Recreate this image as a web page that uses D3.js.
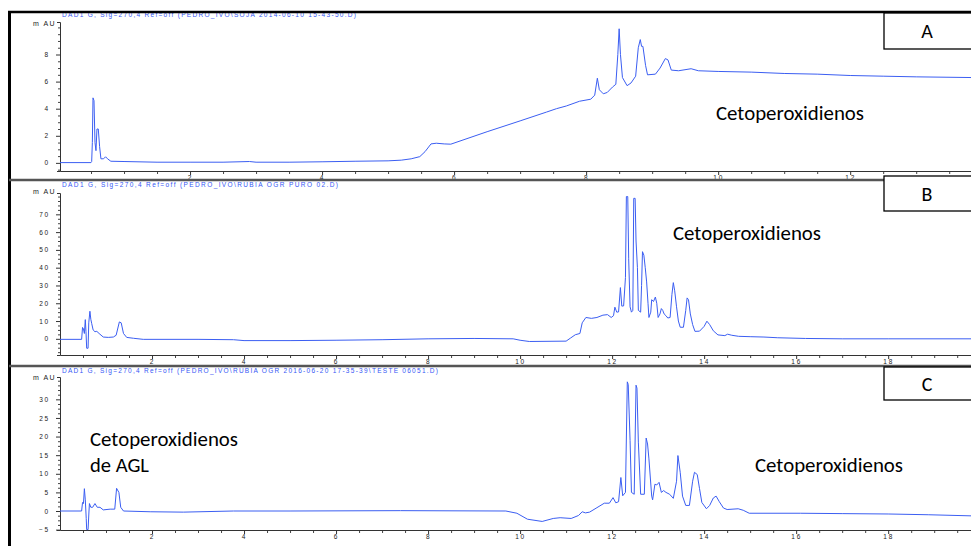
<!DOCTYPE html>
<html>
<head>
<meta charset="utf-8">
<script src="https://cdn.jsdelivr.net/npm/d3@7"></script>
<style>
  body { margin: 0; background: #fff; }
  svg { display: block; }
  .tick text { font-family: "Liberation Sans", Arial, sans-serif; font-size: 6.5px; letter-spacing: 1.8px; fill: #222; }
</style>
</head>
<body>
<svg id="chart" width="971" height="546"></svg>
<script>
// --- Data (time in min, signal in mAU) ---

const titleA = 'DAD1 G, Sig=270,4 Ref=off (PEDRO_IVO\\SOJA 2014-06-10 15-43-50.D)';
const titleB = 'DAD1 G, Sig=270,4 Ref=off (PEDRO_IVO\\RUBIA OGR PURO 02.D)';
const titleC = 'DAD1 G, Sig=270,4 Ref=off (PEDRO_IVO\\RUBIA OGR 2016-06-20 17-35-39\\TESTE 06051.D)';

const timeA = [0.03, 0.5, 0.51, 0.52, 0.53, 0.545, 0.56, 0.575, 0.59, 0.61, 0.63, 0.65, 0.69, 0.72, 0.75, 0.8,
  1.0, 1.5, 2.0, 2.5, 2.9, 3.0, 3.5, 4.0, 4.5, 5.0, 5.2, 5.35, 5.48, 5.56, 5.65, 5.73, 5.85, 5.95,
  6.5, 7.0, 7.4, 7.55, 7.7, 7.9, 8.07, 8.13, 8.17, 8.2, 8.26, 8.32, 8.4, 8.45, 8.48, 8.5, 8.52, 8.55,
  8.62, 8.68, 8.75, 8.79, 8.82, 8.84, 8.86, 8.9, 8.93, 9.05, 9.12, 9.2, 9.24, 9.29, 9.4, 9.59, 9.7,
  10, 10.5, 11, 11.5, 12, 12.5, 13, 13.83];
const valueA = [0.02, 0.02, 0.1, 1.5, 4.8, 4.6, 1.5, 0.9, 2.5, 2.5, 1.2, 0.3, 0.3, 0.45, 0.3, 0.12,
  0.1, 0.05, 0.05, 0.05, 0.1, 0.05, 0.05, 0.08, 0.12, 0.15, 0.2, 0.3, 0.46, 0.83, 1.4, 1.45, 1.4, 1.38,
  2.3, 3.1, 3.75, 4.0, 4.2, 4.55, 4.7, 5.0, 6.25, 5.4, 5.1, 5.2, 5.6, 5.8, 8.0, 9.9, 8.0, 6.3,
  5.7, 5.9, 6.4, 8.5, 9.1, 8.6, 8.6, 7.2, 6.5, 6.55, 7.0, 7.7, 7.6, 6.85, 6.8, 6.95, 6.8,
  6.75, 6.7, 6.6, 6.55, 6.45, 6.4, 6.35, 6.3];

const timeB = [0, 0.47, 0.49, 0.51, 0.53, 0.55, 0.565, 0.58, 0.61, 0.625, 0.65, 0.67, 0.69, 0.72, 0.76, 0.8,
  0.85, 0.94, 1.05, 1.16, 1.22, 1.29, 1.33, 1.38, 1.45, 1.6, 1.81, 3.0, 3.77, 4.0, 5.0, 6.0, 7.0, 8.0,
  9.0, 9.85, 10.0, 10.2, 11.0, 11.1, 11.2, 11.3, 11.35, 11.43, 11.55, 11.67, 11.8, 11.9, 11.98, 12.03,
  12.06, 12.1, 12.14, 12.18, 12.21, 12.25, 12.29, 12.31, 12.34, 12.36, 12.39, 12.42, 12.45, 12.47, 12.5,
  12.52, 12.55, 12.57, 12.62, 12.64, 12.66, 12.69, 12.72, 12.75, 12.78, 12.8, 12.84, 12.86, 12.9, 12.94,
  12.97, 13.0, 13.04, 13.07, 13.1, 13.13, 13.17, 13.21, 13.26, 13.3, 13.33, 13.36, 13.4, 13.44, 13.48,
  13.55, 13.6, 13.63, 13.66, 13.7, 13.75, 13.8, 13.9, 14.0, 14.06, 14.12, 14.2, 14.3, 14.45, 14.51, 14.6,
  14.75, 15.0, 15.3, 15.6, 16.2, 17, 18, 19.8];
const valueB = [-0.3, -0.3, 6.4, 5.5, 3, 10.8, 4, -5.3, -5.3, 9, 15.5, 11, 8.5, 5, 4, 4.2,
  3, 1, 0.8, 1, 2, 9.5, 9, 3, 0.8, 0.3, -0.3, -0.3, -0.5, -1, -1, -0.8, -0.5, 0,
  0.2, 0, -0.8, -1.5, -1.3, 0.5, 2.3, 3, 9, 12, 11.5, 12, 13.3, 13.6, 12, 13,
  17.8, 15, 15.1, 28.8, 18.4, 18.5, 34.5, 80, 80, 45, 18, 15, 16, 79, 79,
  55, 40, 16, 15, 30, 49, 47, 40, 32, 20, 12, 15, 22, 21, 23.5,
  20, 12, 14, 17, 16, 14, 13, 11.7, 12, 25, 31.6, 27, 18, 10, 6.5,
  6.5, 16, 23, 22, 14, 8, 4.2, 4.3, 7, 9.9, 8, 4.5, 2.2, 1.8, 2.6, 2,
  1.4, 1.2, 1, 0.6, 0.2, 0, 0, 0];

const timeC = [0, 0.47, 0.49, 0.51, 0.53, 0.55, 0.57, 0.58, 0.61, 0.63, 0.64, 0.67, 0.71, 0.76, 0.81, 0.87,
  0.94, 1.09, 1.19, 1.23, 1.28, 1.32, 1.38, 1.96, 2.68, 3.77, 5, 7.4, 9.69, 9.93, 10.16, 10.48, 10.72,
  10.87, 11.11, 11.27, 11.35, 11.42, 11.51, 11.67, 11.83, 11.94, 12.02, 12.08, 12.14, 12.19, 12.23, 12.29,
  12.33, 12.35, 12.39, 12.42, 12.48, 12.52, 12.54, 12.57, 12.62, 12.7, 12.74, 12.77, 12.8, 12.86, 12.88,
  12.93, 12.97, 13.02, 13.07, 13.12, 13.17, 13.25, 13.33, 13.4, 13.43, 13.48, 13.53, 13.6, 13.68, 13.75,
  13.79, 13.85, 13.9, 13.95, 14.05, 14.12, 14.2, 14.26, 14.33, 14.42, 14.5, 14.74, 14.85, 14.98, 16.09,
  17, 18, 18.87, 19.8];
const valueC = [0, 0, 2.3, 2, 6, 3, -2, -5, -5, 0, 2, 1, 1, 2, 1, 1,
  0.3, 0.5, 0.5, 6.1, 5, 1, 0, -0.2, -0.3, 0, 0, 0.1, 0, -0.6, -2.2, -2.8, -2.0,
  -1.8, -2.0, -1.2, -0.2, -0.5, -0.3, 0.9, 2.1, 2.1, 3.6, 2.2, 2.5, 9, 4.1, 5,
  34.7, 34, 19, 5, 4.5, 33.8, 33, 18.5, 4.5, 4.5, 19.6, 18, 14, 4, 3,
  7.2, 7, 7.7, 5, 5.5, 5, 4.5, 3.4, 8, 14.9, 10.4, 4, 1.5, 1.5, 8,
  10.4, 9.8, 6, 2.3, 0.6, 1.5, 3.5, 4, 2.5, 0.8, 0.4, 0.6, 0.2, -0.6, -0.6,
  -0.7, -0.8, -1, -1.3];

const xTicksA = [2, 4, 6, 8, 10, 12];
const xTicksBC = [2, 4, 6, 8, 10, 12, 14, 16, 18];
const yTicksA = [0, 2, 4, 6, 8];
const yTicksB = [0, 10, 20, 30, 40, 50, 60, 70];
const yTicksC = [-5, 0, 5, 10, 15, 20, 25, 30];

// --- Layout ---

const svg = d3.select('#chart');
const lineColor = '#3b5ef2';
const titleColor = '#3557f5';
const noteFont = 'Carlito, Lato, "Open Sans", sans-serif';

const panels = [
  { title: titleA, titleWidth: 294, times: timeA, values: valueA, xDomain: [0.03, 13.83], xTicks: xTicksA,
    yDomain: [-0.6, 10.4], yTicks: yTicksA, yMinor: 0.5, top: 22, bottom: 171, titleY: 17, unitY: 26 },
  { title: titleB, titleWidth: 276, times: timeB, values: valueB, xDomain: [0, 19.8], xTicks: xTicksBC,
    yDomain: [-9.1, 82], yTicks: yTicksB, yMinor: 2.5, top: 193, bottom: 355, titleY: 187, unitY: 194 },
  { title: titleC, titleWidth: 376, times: timeC, values: valueC, xDomain: [0, 19.8], xTicks: xTicksBC,
    yDomain: [-5.1, 36], yTicks: yTicksC, yMinor: 1.25, top: 377, bottom: 530, titleY: 373, unitY: 380 }
];

function drawPanel(p) {
  const x = d3.scaleLinear().domain(p.xDomain).range([60, 971]);
  const y = d3.scaleLinear().domain(p.yDomain).range([p.bottom, p.top]);
  const g = svg.append('g');

  // minor x ticks every 0.5 min
  const minorX = d3.range(0.5, p.xDomain[1], 0.5).filter(t => !p.xTicks.includes(t));
  g.append('g')
    .attr('transform', `translate(0,${p.bottom})`)
    .call(d3.axisBottom(x).tickValues(minorX).tickSize(3).tickSizeOuter(0).tickFormat(''))
    .call(a => a.select('.domain').remove())
    .selectAll('line').attr('stroke', '#444');

  g.append('g')
    .attr('transform', `translate(0,${p.bottom})`)
    .call(d3.axisBottom(x).tickValues(p.xTicks).tickSize(4).tickSizeOuter(0).tickPadding(0))
    .call(a => a.select('.domain').attr('stroke', '#333'))
    .call(a => a.selectAll('line').attr('stroke', '#333'));

  // y axis
  const minorY = d3.range(p.yDomain[0] - (p.yDomain[0] % p.yMinor), p.yDomain[1], p.yMinor)
    .filter(v => v >= p.yDomain[0] && !p.yTicks.includes(v));
  g.append('g')
    .attr('transform', 'translate(60,0)')
    .call(d3.axisLeft(y).tickValues(minorY).tickSize(2).tickSizeOuter(0).tickFormat(''))
    .call(a => a.select('.domain').remove())
    .selectAll('line').attr('stroke', '#444');

  g.append('g')
    .attr('transform', 'translate(60,0)')
    .call(d3.axisLeft(y).tickValues(p.yTicks).tickSize(4).tickSizeOuter(3).tickPadding(6))
    .call(a => a.select('.domain').attr('stroke', '#333'))
    .call(a => a.selectAll('line').attr('stroke', '#333'));

  g.append('text')
    .attr('x', 33).attr('y', p.unitY)
    .style('font-family', '"Liberation Sans", Arial, sans-serif')
    .style('font-size', '7px').style('letter-spacing', '1.5px').attr('fill', '#222')
    .text('m AU');

  g.append('text')
    .attr('x', 62).attr('y', p.titleY)
    .attr('textLength', p.titleWidth).attr('lengthAdjust', 'spacing')
    .style('font-family', '"Liberation Sans", Arial, sans-serif')
    .style('font-size', '6.5px').attr('fill', titleColor)
    .text(p.title);

  // signal
  const pts = p.times.map((t, i) => [t, p.values[i]]);
  g.append('path')
    .datum(pts)
    .attr('fill', 'none')
    .attr('stroke', lineColor)
    .attr('stroke-width', 1)
    .attr('d', d3.line().x(d => x(d[0])).y(d => y(d[1])));
}

panels.forEach(drawPanel);

// --- Frame and separators ---

svg.append('line').attr('x1', 8).attr('x2', 971).attr('y1', 12).attr('y2', 12)
  .attr('stroke', '#000').attr('stroke-width', 2.5);
svg.append('line').attr('x1', 9.5).attr('x2', 9.5).attr('y1', 11).attr('y2', 546)
  .attr('stroke', '#000').attr('stroke-width', 3);
[180, 366].forEach(yy => {
  svg.append('line').attr('x1', 9).attr('x2', 971).attr('y1', yy).attr('y2', yy)
    .attr('stroke', '#555').attr('stroke-width', 2.5);
});

// --- Panel letters ---

const letterBoxes = [
  { label: 'A', y: 13, h: 36 },
  { label: 'B', y: 176, h: 35 },
  { label: 'C', y: 367, h: 33 }
];
letterBoxes.forEach(b => {
  svg.append('rect').attr('x', 884).attr('y', b.y).attr('width', 100).attr('height', b.h)
    .attr('fill', '#fff').attr('stroke', '#000').attr('stroke-width', 1.3);
  svg.append('text').attr('x', 927).attr('y', b.y + b.h / 2 + 7)
    .attr('text-anchor', 'middle')
    .style('font-family', noteFont).style('font-size', '20px').attr('fill', '#000')
    .text(b.label);
});

// --- Annotations ---

const notes = [
  { text: 'Cetoperoxidienos', x: 716, y: 120, w: 148 },
  { text: 'Cetoperoxidienos', x: 673, y: 240, w: 148 },
  { text: 'Cetoperoxidienos', x: 755, y: 472, w: 148 },
  { text: 'Cetoperoxidienos', x: 90, y: 446, w: 148 },
  { text: 'de AGL', x: 90, y: 472, w: 59 }
];
notes.forEach(n => {
  svg.append('text').attr('x', n.x).attr('y', n.y)
    .attr('textLength', n.w).attr('lengthAdjust', 'spacingAndGlyphs')
    .style('font-family', noteFont).style('font-size', '19.5px').attr('fill', '#000')
    .text(n.text);
});
</script>
</body>
</html>
